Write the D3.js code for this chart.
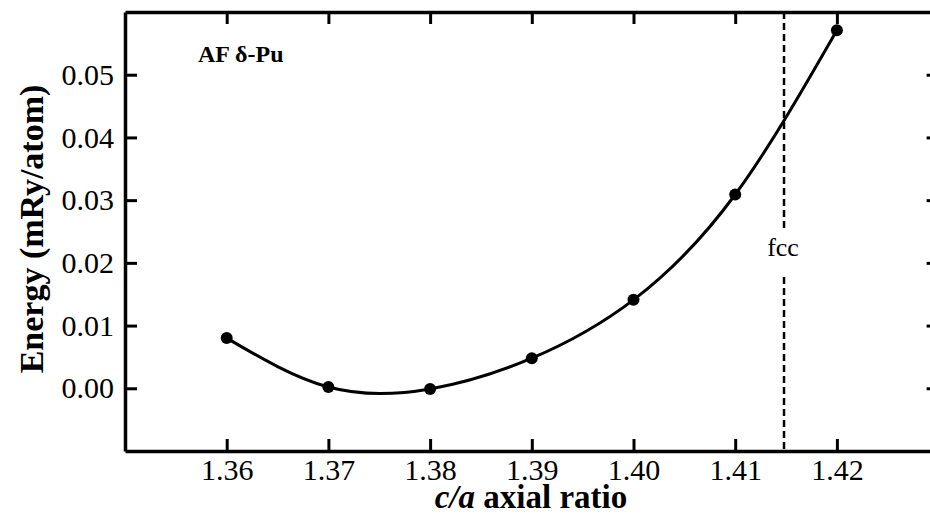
<!DOCTYPE html>
<html>
<head>
<meta charset="utf-8">
<script src="https://cdn.jsdelivr.net/npm/d3@7"></script>
<style>
  body { margin: 0; background: #fff; }
  text { font-family: "Liberation Serif", "Times New Roman", serif; fill: #000; }
</style>
</head>
<body>
<div id="container"></div>
<script>
// data
let caRatio = [1.36, 1.37, 1.38, 1.39, 1.40, 1.41, 1.42];
let energy = [0.0080, 0.0002, -0.0001, 0.0048, 0.0141, 0.0309, 0.0571];
let xTicks = [1.36, 1.37, 1.38, 1.39, 1.40, 1.41, 1.42];
let yTicks = [0.00, 0.01, 0.02, 0.03, 0.04, 0.05];
let fccRatio = 1.4148;

let w = 930;
let h = 518;

let svg = d3.select("#container")
  .append("svg")
    .attr("width", w)
    .attr("height", h);

let x = d3.scaleLinear().domain([1.35, 1.43]).range([125, 938.6]);
let y = d3.scaleLinear().domain([-0.01, 0.06]).range([451, 12]);

// dashed fcc line, with a gap for the label
svg.append("line")
    .attr("x1", x(fccRatio)).attr("x2", x(fccRatio))
    .attr("y1", y(0.06)).attr("y2", 232)
    .attr("stroke", "#000").attr("stroke-width", 2.5)
    .attr("stroke-dasharray", "7,4");
svg.append("line")
    .attr("x1", x(fccRatio)).attr("x2", x(fccRatio))
    .attr("y1", 277).attr("y2", y(-0.01))
    .attr("stroke", "#000").attr("stroke-width", 2.5)
    .attr("stroke-dasharray", "7,4");
svg.append("text")
    .attr("x", x(fccRatio) - 1)
    .attr("y", 256)
    .attr("text-anchor", "middle")
    .style("font-size", "26px")
    .text("fcc");

// axes, ticks pointing inward
let axBottom = svg.append("g")
    .attr("transform", "translate(0," + y(-0.01) + ")")
    .call(d3.axisBottom(x).tickValues(xTicks).tickFormat(d3.format(".2f"))
      .tickSizeInner(-12).tickSizeOuter(0).tickPadding(8));
let axLeft = svg.append("g")
    .attr("transform", "translate(" + x(1.35) + ",0)")
    .call(d3.axisLeft(y).tickValues(yTicks).tickFormat(d3.format(".2f"))
      .tickSizeInner(-12).tickSizeOuter(0).tickPadding(11));
let axTop = svg.append("g")
    .attr("transform", "translate(0," + y(0.06) + ")")
    .call(d3.axisTop(x).tickValues(xTicks).tickFormat("")
      .tickSizeInner(-12).tickSizeOuter(0));
let axRight = svg.append("g")
    .attr("transform", "translate(" + x(1.43) + ",0)")
    .call(d3.axisRight(y).tickValues(yTicks).tickFormat("")
      .tickSizeInner(-12).tickSizeOuter(0));

[axBottom, axLeft, axTop, axRight].forEach(function(g){
  g.select(".domain").attr("stroke-width", 3.5);
  g.selectAll(".tick line").attr("stroke-width", 3);
  g.selectAll(".tick text")
    .style("font-family", "'Liberation Serif', serif")
    .style("font-size", "30px");
});
axBottom.selectAll(".tick text").attr("dy", "0.71em");

// curve
let line = d3.line()
    .x(function(d, i){ return x(caRatio[i]); })
    .y(function(d){ return y(d); })
    .curve(d3.curveNatural);

svg.append("path")
    .datum(energy)
    .attr("d", line)
    .attr("fill", "none")
    .attr("stroke", "#000")
    .attr("stroke-width", 3);

svg.selectAll(".pt")
  .data(energy)
  .enter()
  .append("circle")
    .attr("class", "pt")
    .attr("cx", function(d, i){ return x(caRatio[i]); })
    .attr("cy", function(d){ return y(d); })
    .attr("r", 6)
    .attr("fill", "#000");

// labels
svg.append("text")
    .attr("x", 198)
    .attr("y", 62)
    .style("font-size", "24px")
    .style("font-weight", "bold")
    .text("AF δ-Pu");

svg.append("text")
    .attr("transform", "translate(43,229) rotate(-90)")
    .attr("text-anchor", "middle")
    .style("font-size", "34px")
    .style("font-weight", "bold")
    .text("Energy (mRy/atom)");

let xl = svg.append("text")
    .attr("x", 531)
    .attr("y", 508)
    .attr("text-anchor", "middle")
    .style("font-size", "33px")
    .style("font-weight", "bold");
xl.append("tspan").style("font-style", "italic").text("c/a");
xl.append("tspan").text(" axial ratio");
</script>
</body>
</html>
